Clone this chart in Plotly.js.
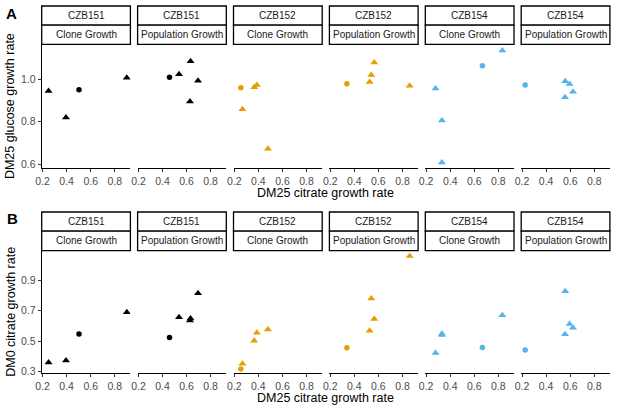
<!DOCTYPE html>
<html>
<head>
<meta charset="utf-8">
<script src="https://cdn.plot.ly/plotly-3.0.1.min.js"></script>
<style>html,body{margin:0;padding:0;background:#fff;}#chart{width:617px;height:411px;}</style>
</head>
<body>
<div id="chart"></div>
<script>
// ---- Data ----
const strains = ["CZB151", "CZB151", "CZB152", "CZB152", "CZB154", "CZB154"];
const growthTypes = ["Clone Growth", "Population Growth", "Clone Growth", "Population Growth", "Clone Growth", "Population Growth"];

// DM25 citrate growth rate (x) per panel
const dm25Citrate_151_clone = [0.250, 0.395, 0.503, 0.900];
const dm25Citrate_151_pop   = [0.458, 0.537, 0.633, 0.628, 0.695];
const dm25Citrate_152_clone = [0.254, 0.267, 0.365, 0.387, 0.479];
const dm25Citrate_152_pop   = [0.338, 0.527, 0.541, 0.566, 0.860];
const dm25Citrate_154_clone = [0.278, 0.331, 0.331, 0.667, 0.833];
const dm25Citrate_154_pop   = [0.226, 0.559, 0.595, 0.623, 0.557];

// DM25 glucose growth rate (panel A y)
const dm25Glucose_151_clone = [0.944, 0.820, 0.950, 1.006];
const dm25Glucose_151_pop   = [1.008, 1.023, 1.084, 0.894, 0.992];
const dm25Glucose_152_clone = [0.959, 0.858, 0.961, 0.972, 0.673];
const dm25Glucose_152_pop   = [0.978, 0.986, 1.019, 1.077, 0.969];
const dm25Glucose_154_clone = [0.956, 0.805, 0.608, 1.062, 1.134];
const dm25Glucose_154_pop   = [0.972, 0.989, 0.977, 0.940, 0.914];

// DM0 citrate growth rate (panel B y)
const dm0Citrate_151_clone = [0.361, 0.374, 0.547, 0.689];
const dm0Citrate_151_pop   = [0.525, 0.656, 0.649, 0.636, 0.813];
const dm0Citrate_152_clone = [0.318, 0.352, 0.503, 0.555, 0.577];
const dm0Citrate_152_pop   = [0.457, 0.568, 0.780, 0.645, 1.057];
const dm0Citrate_154_clone = [0.422, 0.549, 0.540, 0.459, 0.669];
const dm0Citrate_154_pop   = [0.442, 0.826, 0.612, 0.588, 0.545];

// Sample type (circle = ancestor, triangle = evolved)
const type_151_clone = ["Evolved", "Evolved", "Ancestor", "Evolved"];
const type_151_pop   = ["Ancestor", "Evolved", "Evolved", "Evolved", "Evolved"];
const type_152_clone = ["Ancestor", "Evolved", "Evolved", "Evolved", "Evolved"];
const type_152_pop   = ["Ancestor", "Evolved", "Evolved", "Evolved", "Evolved"];
const type_154_clone = ["Evolved", "Evolved", "Evolved", "Ancestor", "Evolved"];
const type_154_pop   = ["Ancestor", "Evolved", "Evolved", "Evolved", "Evolved"];

const xTickVals = [0.2, 0.4, 0.6, 0.8];
const yTickValsA = [0.6, 0.8, 1.0];
const yTickValsB = [0.3, 0.5, 0.7, 0.9];

// ---- Styles ----
const strainColor = {CZB151: "#000000", CZB152: "#E69F00", CZB154: "#56B4E9"};
const typeSymbol = {Ancestor: "circle", Evolved: "triangle-up"};
const typeSize = {Ancestor: 5.5, Evolved: 7};

const panelX = [dm25Citrate_151_clone, dm25Citrate_151_pop, dm25Citrate_152_clone, dm25Citrate_152_pop, dm25Citrate_154_clone, dm25Citrate_154_pop];
const panelGlucose = [dm25Glucose_151_clone, dm25Glucose_151_pop, dm25Glucose_152_clone, dm25Glucose_152_pop, dm25Glucose_154_clone, dm25Glucose_154_pop];
const panelDM0 = [dm0Citrate_151_clone, dm0Citrate_151_pop, dm0Citrate_152_clone, dm0Citrate_152_pop, dm0Citrate_154_clone, dm0Citrate_154_pop];
const panelType = [type_151_clone, type_151_pop, type_152_clone, type_152_pop, type_154_clone, type_154_pop];

const W = 617, H = 411;
const FONT = "Liberation Sans, Arial, Helvetica, sans-serif";
const left = 41.7, pw = 88.7, step = 95.9;
const rowA = {top: 44.3, bottom: 168.3, s1: 6, s2: 25.2, range: [0.581, 1.163], ticks: yTickValsA, fmt: ".1f"};
const rowB = {top: 250.7, bottom: 373.3, s1: 212, s2: 231.2, range: [0.29, 1.092], ticks: yTickValsB, fmt: ".1f"};
const rows = [rowA, rowB];
const rowY = [panelGlucose, panelDM0];

const px = v => v / W;
const py = v => 1 - v / H;

const data = [];
const layout = {
  width: W, height: H,
  margin: {l: 0, r: 0, t: 0, b: 0},
  paper_bgcolor: "#ffffff", plot_bgcolor: "#ffffff",
  showlegend: false,
  font: {family: FONT, size: 10.3, color: "#4D4D4D"},
  shapes: [], annotations: []
};

rows.forEach((row, r) => {
  const yName = r === 0 ? "y" : "y2";
  const yKey = r === 0 ? "yaxis" : "yaxis2";
  layout[yKey] = {
    domain: [py(row.bottom), py(row.top)],
    range: row.range, anchor: r === 0 ? "x" : "x7",
    showline: true, linecolor: "#000000", linewidth: 1.1,
    ticks: "outside", ticklen: 3, tickwidth: 1, tickcolor: "#333333",
    tickvals: row.ticks, tickformat: row.fmt,
    showgrid: false, zeroline: false,
    tickfont: {family: FONT, size: 10.5, color: "#4D4D4D"}
  };
  for (let k = 0; k < 6; k++) {
    const idx = r * 6 + k + 1;
    const xName = "x" + idx;
    const xKey = "xaxis" + idx;
    const x0 = left + step * k;
    layout[xKey] = {
      domain: [px(x0), px(x0 + pw)],
      range: [0.193, 0.93], anchor: yName,
      showline: true, linecolor: "#000000", linewidth: 1.1,
      ticks: "outside", ticklen: 3, tickwidth: 1, tickcolor: "#333333",
      tickvals: xTickVals, tickformat: ".1f",
      showgrid: false, zeroline: false,
      tickfont: {family: FONT, size: 10.5, color: "#4D4D4D"}
    };
    const types = panelType[k];
    data.push({
      type: "scatter", mode: "markers",
      x: panelX[k], y: rowY[r][k],
      xaxis: xName, yaxis: yName,
      marker: {
        color: strainColor[strains[k]],
        symbol: types.map(t => typeSymbol[t]),
        size: types.map(t => typeSize[t]),
        opacity: 1,
        line: {width: 0}
      },
      text: types, hoverinfo: "x+y+text"
    });
    // strip boxes
    const stripBoxes = [[row.s1, row.s2, strains[k]], [row.s2, row.top, growthTypes[k]]];
    stripBoxes.forEach(([t, b, label]) => {
      layout.shapes.push({
        type: "rect", xref: "paper", yref: "paper",
        x0: px(x0), x1: px(x0 + pw), y0: py(b), y1: py(t),
        line: {color: "#000000", width: 1.3}, fillcolor: "#ffffff", layer: "above"
      });
      layout.annotations.push({
        xref: "paper", yref: "paper",
        x: px(x0 + pw / 2), y: py((t + b) / 2),
        xanchor: "center", yanchor: "middle", showarrow: false,
        text: label, font: {family: FONT, size: 10, color: "#1A1A1A"}
      });
    });
  }
  // axis titles
  const cx = left + (step * 5 + pw) / 2;
  layout.annotations.push({
    xref: "paper", yref: "paper", x: px(cx), y: py(row.bottom + 25),
    xanchor: "center", yanchor: "middle", showarrow: false,
    text: "DM25 citrate growth rate", font: {family: FONT, size: 12.5, color: "#000000"}
  });
  layout.annotations.push({
    xref: "paper", yref: "paper", x: px(10.8), y: py((row.top + row.bottom) / 2),
    xanchor: "center", yanchor: "middle", showarrow: false, textangle: -90,
    text: r === 0 ? "DM25 glucose growth rate" : "DM0 citrate growth rate",
    font: {family: FONT, size: 12.5, color: "#000000"}
  });
});

layout.annotations.push({xref: "paper", yref: "paper", x: px(11.5), y: py(13.8), xanchor: "center", yanchor: "middle", showarrow: false,
  text: "<b>A</b>", font: {family: FONT, size: 15, color: "#000000"}});
layout.annotations.push({xref: "paper", yref: "paper", x: px(12.3), y: py(218.7), xanchor: "center", yanchor: "middle", showarrow: false,
  text: "<b>B</b>", font: {family: FONT, size: 15, color: "#000000"}});

Plotly.newPlot("chart", data, layout, {staticPlot: true, displayModeBar: false});
</script>
</body>
</html>
